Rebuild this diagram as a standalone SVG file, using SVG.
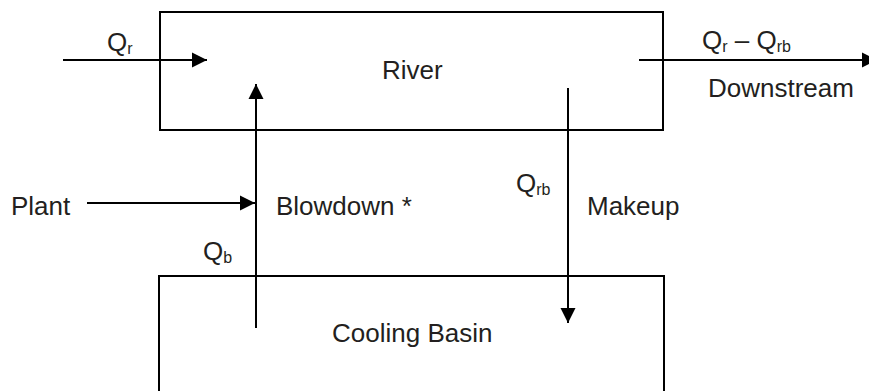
<svg xmlns="http://www.w3.org/2000/svg" width="869" height="391" viewBox="0 0 869 391">
<style>
.box{fill:none;stroke:#000;stroke-width:2}
.ln{fill:none;stroke:#000;stroke-width:2}
text{font-family:"Liberation Sans",Arial,sans-serif;font-size:26px;fill:#231f20}
.sub{font-size:16px}
</style>
<defs>
<marker id="ah" markerUnits="userSpaceOnUse" markerWidth="16" markerHeight="16" refX="15" refY="8" orient="auto" viewBox="0 0 16 16">
<path d="M0,0.5 L15,8 L0,15.5 z" fill="#000"/>
</marker>
</defs>
<rect width="869" height="391" fill="#fff"/>
<g id="river">
<rect class="box" x="160" y="12" width="503" height="118"/>
<text x="382" y="79">River</text>
</g>
<g id="basin">
<rect class="box" x="159" y="276" width="505" height="140"/>
<text x="332" y="342">Cooling Basin</text>
</g>
<g id="connectors">
<line class="ln" x1="63" y1="60" x2="207" y2="60" marker-end="url(#ah)"/>
<line class="ln" x1="639" y1="60" x2="877" y2="60" marker-end="url(#ah)"/>
<line class="ln" x1="256" y1="328" x2="256" y2="84" marker-end="url(#ah)"/>
<line class="ln" x1="568" y1="88" x2="568" y2="323" marker-end="url(#ah)"/>
<line class="ln" x1="87" y1="203" x2="255" y2="203" marker-end="url(#ah)"/>
</g>
<g id="labels">
<text x="107" y="51">Q<tspan class="sub" dy="3">r</tspan></text>
<text x="702" y="49">Q<tspan class="sub" dy="3">r</tspan><tspan dy="-3"> – Q</tspan><tspan class="sub" dy="3">rb</tspan></text>
<text x="708" y="97">Downstream</text>
<text x="11" y="215">Plant</text>
<text x="276" y="215">Blowdown *</text>
<text x="516" y="192">Q<tspan class="sub" dy="3">rb</tspan></text>
<text x="587" y="215">Makeup</text>
<text x="203" y="260">Q<tspan class="sub" dy="3">b</tspan></text>
</g>
</svg>
